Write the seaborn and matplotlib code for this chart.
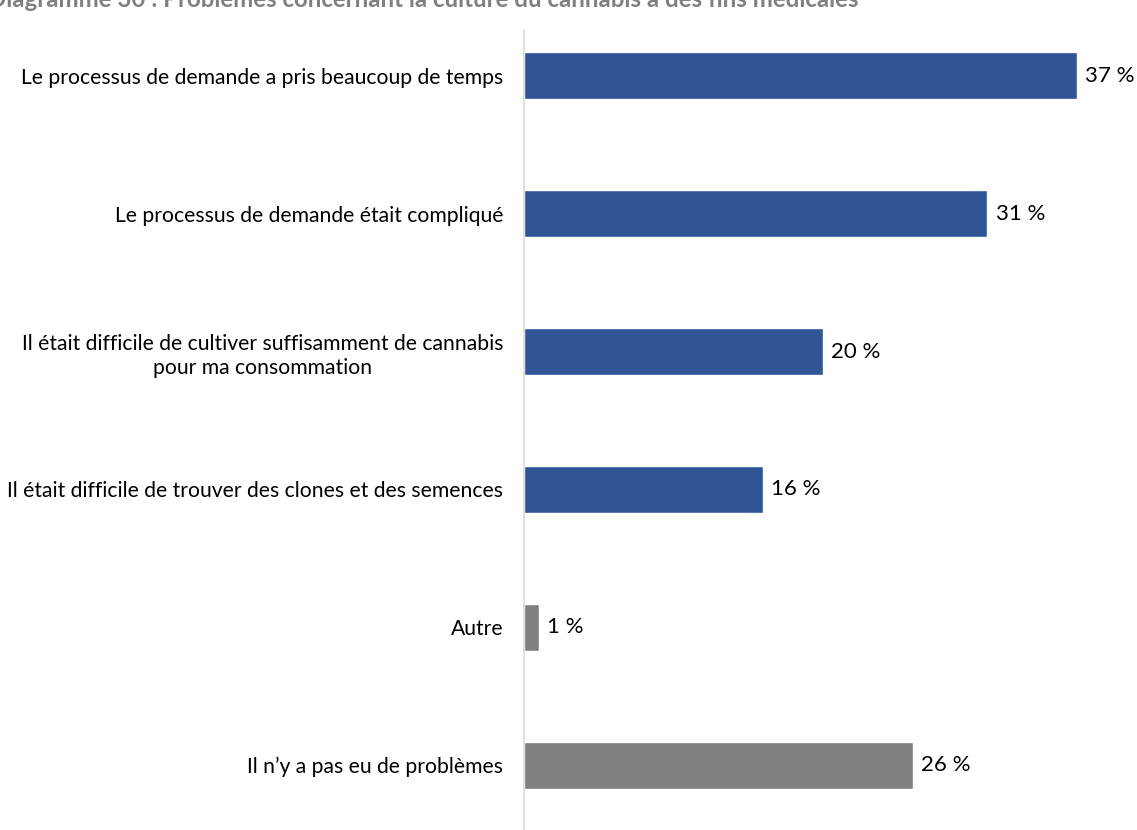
import matplotlib
matplotlib.use("Agg")
import matplotlib.pyplot as plt
import seaborn as sns
import pandas as pd

categories = [
    "Le processus de demande a pris beaucoup de temps",
    "Le processus de demande était compliqué",
    "Il était difficile de cultiver suffisamment de cannabis\npour ma consommation",
    "Il était difficile de trouver des clones et des semences",
    "Autre",
    "Il n’y a pas eu de problèmes",
]
values = [37, 31, 20, 16, 1, 26]
colors = ["#2F5597", "#2F5597", "#2F5597", "#2F5597", "#7F7F7F", "#7F7F7F"]
title = "Diagramme 30 : Problèmes concernant la culture du cannabis à des fins médicales"

df = pd.DataFrame({"cat": categories, "val": values})

sns.set_theme(style="white")
plt.rcParams['font.family'] = ['Lato', 'DejaVu Sans']

W, H = 1137, 830
fig = plt.figure(figsize=(W / 100, H / 100), dpi=100)
ax = fig.add_axes([524 / W, 0, 1 - 524 / W, 1 - 30 / H])

sns.barplot(data=df, x="val", y="cat", hue="cat", palette=colors, legend=False,
            width=0.34, ax=ax, orient="h", saturation=1)

ax.set_xlim(0, 41)
ax.set_ylim(5.471, -0.333)
ax.set_xlabel("")
ax.set_ylabel("")
ax.set_xticks([])
for s in ["top", "right", "bottom"]:
    ax.spines[s].set_visible(False)
ax.spines["left"].set_color("#D9D9D9")
ax.spines["left"].set_linewidth(1.2)
ax.tick_params(axis="y", length=0, pad=15, labelsize=15.2, labelcolor="#000000")
for lab in ax.get_yticklabels():
    lab.set_multialignment("center")
    lab.set_linespacing(1.3)

for i, v in enumerate(values):
    ax.text(v + 0.55, i, f"{v} %", va="center", ha="left", fontsize=16, color="#000000")

fig.text(-12 / W, 1 - 7 / H, title, ha="left", va="baseline", fontsize=17.3,
         fontweight="bold", color="#808080")

fig.savefig("out.png", dpi=100)
